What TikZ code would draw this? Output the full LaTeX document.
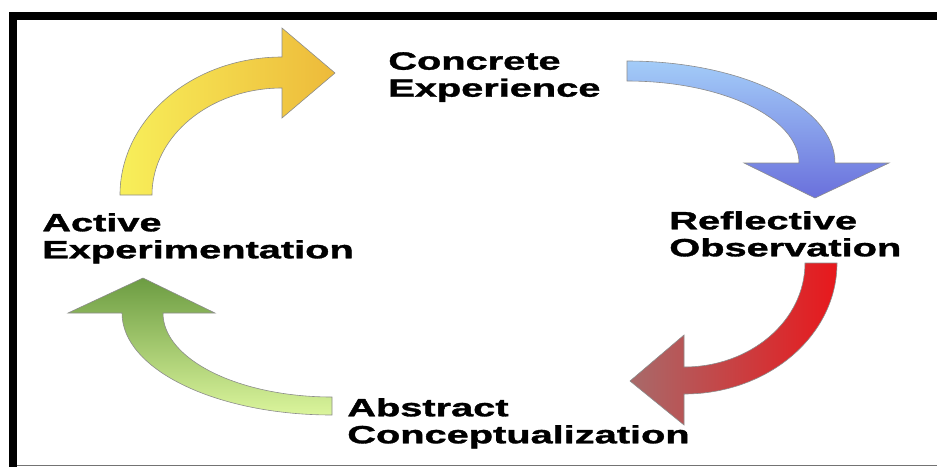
\documentclass[tikz,border=0pt]{standalone}
\usepackage{fontspec}
\setmainfont{Liberation Sans}[BoldFeatures={FakeBold=1.2}]
\usepackage{tikz}

\definecolor{yeltail}{HTML}{F8EF5A}
\definecolor{yelhead}{HTML}{EDBA3A}
\definecolor{bluetail}{HTML}{A3CCF8}
\definecolor{bluehead}{HTML}{6A70DC}
\definecolor{redtail}{HTML}{E8181C}
\definecolor{redhead}{HTML}{A86A6A}
\definecolor{greentail}{HTML}{DBF59C}
\definecolor{greenhead}{HTML}{6C9C42}

\tikzset{
  stage/.style={font=\fontsize{25}{27}\selectfont\bfseries, align=left,
    inner sep=0pt, anchor=north west, xscale=1.59},
  cyc/.style={draw=black!45, line width=0.6pt}
}

\begin{document}
\begin{tikzpicture}[x=1pt,y=-1pt]
      \useasboundingbox (0,0) rectangle (937,467);
      \fill[black] (9,12) rectangle (937,20);
      \fill[black] (9,12) rectangle (17,467);
      \draw[black!55, line width=1.5pt] (17,465.5) -- (937,465.5);

      \node[stage] (ce) at (388,52) {Concrete\\Experience};
      \node[stage] (ro) at (669,211) {Reflective\\Observation};
      \node[stage] (ac) at (347,398) {Abstract\\Conceptualization};
      \node[stage] (ae) at (42,213) {Active\\Experimentation};

      \path[cyc, left color=yeltail, right color=yelhead]
        (120,195) arc[start angle=180, end angle=270, x radius=162, y radius=138]
        -- (282,28) -- (335,73) -- (282,118) -- (282,88)
        arc[start angle=270, end angle=180, x radius=130, y radius=107] -- cycle;
      \path[cyc, top color=bluetail, bottom color=bluehead]
        (627,61) arc[start angle=270, end angle=360, x radius=208, y radius=102]
        -- (889,163) -- (815,198) -- (744,163) -- (799,163)
        arc[start angle=360, end angle=270, x radius=172, y radius=82] -- cycle;
      \path[cyc, left color=redhead, right color=redtail]
        (837,263) arc[start angle=0, end angle=90, x radius=153, y radius=131]
        -- (684,425) -- (630,381) -- (684,335) -- (684,367)
        arc[start angle=90, end angle=0, x radius=121, y radius=104] -- cycle;
      \path[cyc, top color=greenhead, bottom color=greentail]
        (332,415) arc[start angle=90, end angle=180, x radius=210, y radius=102]
        -- (68,313) -- (143,278) -- (215,313) -- (163,313)
        arc[start angle=180, end angle=90, x radius=169, y radius=84] -- cycle;
  \end{tikzpicture}
\end{document}
